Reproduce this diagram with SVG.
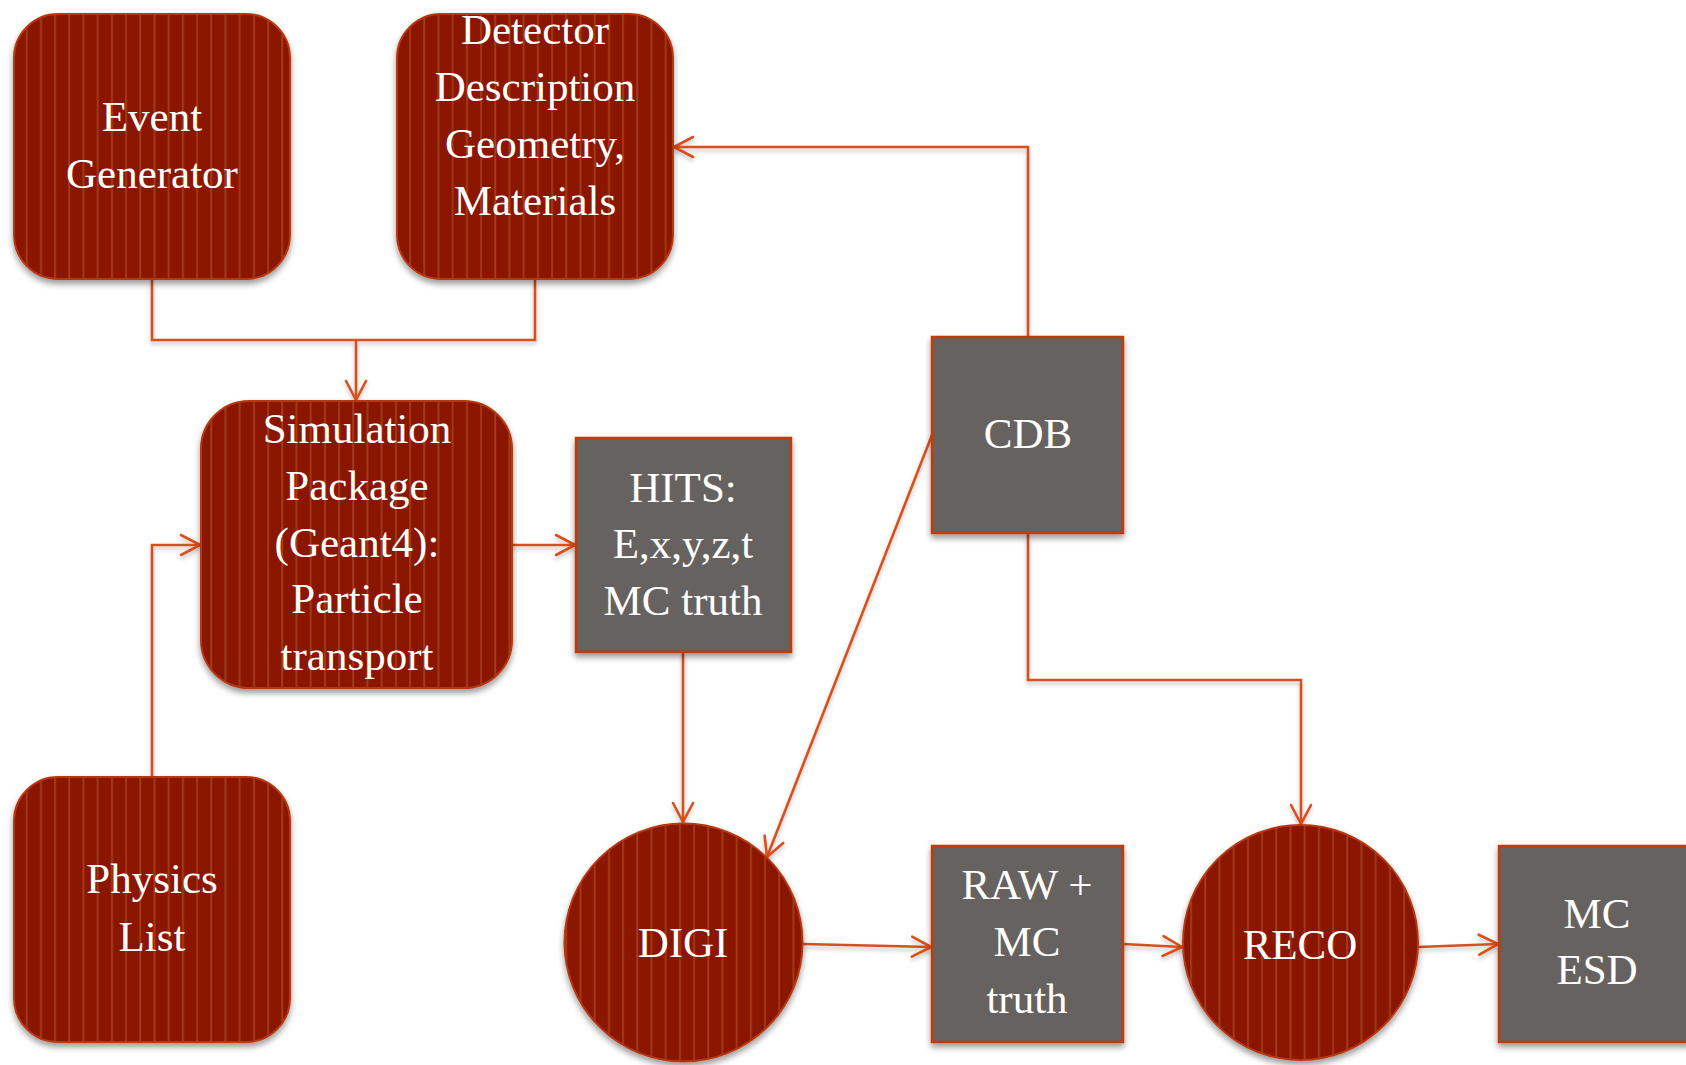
<svg xmlns="http://www.w3.org/2000/svg" width="1686" height="1065" viewBox="0 0 1686 1065">
<defs>
<pattern id="stripes" patternUnits="userSpaceOnUse" x="0" y="0" width="14.2" height="20">
<rect width="14.2" height="20" fill="#8A1400"/>
<rect x="11.5" width="2" height="20" fill="#A23A18"/>
</pattern>
<filter id="sh" x="-10%" y="-10%" width="120%" height="125%">
<feDropShadow dx="0" dy="4" stdDeviation="3" flood-color="#000" flood-opacity="0.4"/>
</filter>
<filter id="lsh" x="-5%" y="-5%" width="110%" height="110%">
<feDropShadow dx="0" dy="3" stdDeviation="2" flood-color="#000" flood-opacity="0.25"/>
</filter>
<marker id="arr" markerUnits="userSpaceOnUse" viewBox="0 0 24 24" markerWidth="24" markerHeight="24" refX="21" refY="12" orient="auto">
<path d="M2,2 L21,12 L2,22" fill="none" stroke="#D9501C" stroke-width="2.6" stroke-linecap="round" stroke-linejoin="round"/>
</marker>
</defs>
<style>
.red{fill:url(#stripes);stroke:#B8380E;stroke-width:2;filter:url(#sh)}
.gray{fill:#666261;stroke:#C23A10;stroke-width:2.5;filter:url(#sh)}
.t{font-family:"Liberation Serif","Times New Roman",serif;font-size:43px;fill:#FFFFFF;text-anchor:middle}
.c{fill:none;stroke:#D9501C;stroke-width:2.6}
</style>
<rect width="1686" height="1065" fill="#FFFFFF"/>
<g id="connectors" filter="url(#lsh)">
<path class="c" d="M152,280 V340 H535 V280"/>
<path class="c" d="M356,340 V400" marker-end="url(#arr)"/>
<path class="c" d="M152,776 V545 H200" marker-end="url(#arr)"/>
<path class="c" d="M512,545 H575" marker-end="url(#arr)"/>
<path class="c" d="M683,652 V822" marker-end="url(#arr)"/>
<path class="c" d="M1028,337 V147 H674" marker-end="url(#arr)"/>
<path class="c" d="M932,435 L767,857" marker-end="url(#arr)"/>
<path class="c" d="M1028,533 V680 H1301 V824" marker-end="url(#arr)"/>
<path class="c" d="M803,944 L931,947" marker-end="url(#arr)"/>
<path class="c" d="M1123,944 L1182,947" marker-end="url(#arr)"/>
<path class="c" d="M1418,947 L1498,944" marker-end="url(#arr)"/>
</g>
<g id="event-generator">
<rect class="red" x="14" y="14" width="276" height="265" rx="44"/>
<text class="t" x="152" y="131">Event</text>
<text class="t" x="152" y="188">Generator</text>
</g>
<g id="detector-description">
<rect class="red" x="397" y="14" width="276" height="265" rx="44"/>
<text class="t" x="535" y="44">Detector</text>
<text class="t" x="535" y="101">Description</text>
<text class="t" x="535" y="158">Geometry,</text>
<text class="t" x="535" y="215">Materials</text>
</g>
<g id="simulation-package">
<rect class="red" x="201" y="401" width="311" height="287" rx="48"/>
<text class="t" x="357" y="443">Simulation</text>
<text class="t" x="357" y="500">Package</text>
<text class="t" x="357" y="557">(Geant4):</text>
<text class="t" x="357" y="613">Particle</text>
<text class="t" x="357" y="670">transport</text>
</g>
<g id="physics-list">
<rect class="red" x="14" y="777" width="276" height="265" rx="44"/>
<text class="t" x="152" y="893">Physics</text>
<text class="t" x="152" y="951">List</text>
</g>
<g id="hits">
<rect class="gray" x="576" y="438" width="215" height="214"/>
<text class="t" x="683" y="502">HITS:</text>
<text class="t" x="683" y="558">E,x,y,z,t</text>
<text class="t" x="683" y="615">MC truth</text>
</g>
<g id="cdb">
<rect class="gray" x="932" y="337" width="191" height="196"/>
<text class="t" x="1028" y="448">CDB</text>
</g>
<g id="digi">
<circle class="red" cx="683.5" cy="942.5" r="119"/>
<text class="t" x="683" y="957">DIGI</text>
</g>
<g id="raw-mc-truth">
<rect class="gray" x="932" y="846" width="191" height="196"/>
<text class="t" x="1027" y="899">RAW +</text>
<text class="t" x="1027" y="956">MC</text>
<text class="t" x="1027" y="1013">truth</text>
</g>
<g id="reco">
<circle class="red" cx="1300.5" cy="942.5" r="117.5"/>
<text class="t" x="1300" y="959">RECO</text>
</g>
<g id="mc-esd">
<rect class="gray" x="1499" y="846" width="192" height="196"/>
<text class="t" x="1597" y="928">MC</text>
<text class="t" x="1597" y="984">ESD</text>
</g>
</svg>
